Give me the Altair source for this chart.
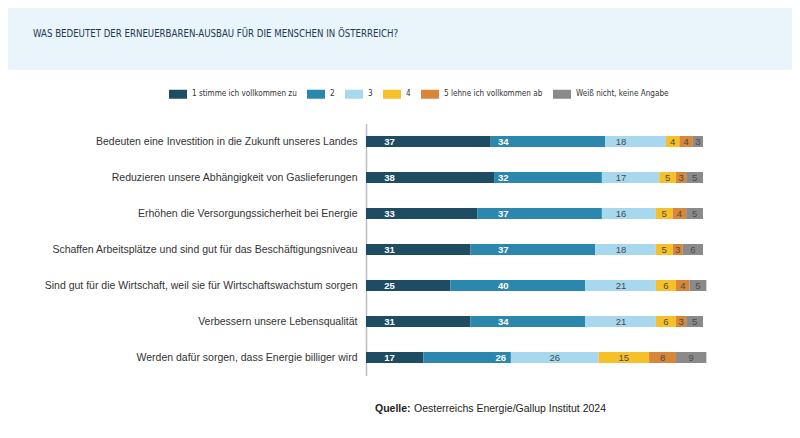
import altair as alt
import pandas as pd

title_text = "WAS BEDEUTET DER ERNEUERBAREN-AUSBAU FÜR DIE MENSCHEN IN ÖSTERREICH?"
source_bold = "Quelle:"
source_rest = "Oesterreichs Energie/Gallup Institut 2024"

statements = [
    "Bedeuten eine Investition in die Zukunft unseres Landes",
    "Reduzieren unsere Abhängigkeit von Gaslieferungen",
    "Erhöhen die Versorgungssicherheit bei Energie",
    "Schaffen Arbeitsplätze und sind gut für das Beschäftigungsniveau",
    "Sind gut für die Wirtschaft, weil sie für Wirtschaftswachstum sorgen",
    "Verbessern unsere Lebensqualität",
    "Werden dafür sorgen, dass Energie billiger wird",
]
categories = [
    "1 stimme ich vollkommen zu",
    "2",
    "3",
    "4",
    "5 lehne ich vollkommen ab",
    "Weiß nicht, keine Angabe",
]
colors = ["#1e4d63", "#2b87ad", "#a7d8ee", "#f6c128", "#d8873a", "#8a8a8a"]

v1 = [37, 38, 33, 31, 25, 31, 17]
v2 = [34, 32, 37, 37, 40, 34, 26]
v3 = [18, 17, 16, 18, 21, 21, 26]
v4 = [4, 5, 5, 5, 6, 6, 15]
v5 = [4, 3, 4, 3, 4, 3, 8]
v6 = [3, 5, 5, 6, 5, 5, 9]
series = [v1, v2, v3, v4, v5, v6]

rows = []
for i, s in enumerate(statements):
    start = 0.0
    for k, cat in enumerate(categories):
        val = series[k][i]
        end = start + val
        center = (start + end) / 2
        if k == 0:
            lx = start + 7
        elif k == 1:
            lx = min(40.7, end - 3)
        elif k == 2:
            lx = 75.7 if (start < 72 and end > 79) else center
        else:
            lx = center
        rows.append(dict(statement=s, cat=cat, k=k, val=val, start=start,
                         end=end, lx=lx, dark=k < 2))
        start = end
df = pd.DataFrame(rows)

SANS = "Liberation Sans, Arial, sans-serif"
NARROW = "Liberation Sans Narrow, Arial Narrow, DejaVu Sans Condensed, Liberation Sans, sans-serif"

PL, PT = 358, 115.5
W, H = 337, 252
TOTW, TOTH = 784, 422

yenc = alt.Y("statement:N", sort=statements, title=None,
             scale=alt.Scale(paddingInner=0, paddingOuter=0),
             axis=alt.Axis(labelFont=SANS, labelFontSize=10.5, labelColor="#333333",
                           labelPadding=9, ticks=False, domainColor="#bdbdbd",
                           domainWidth=1.5, labelLimit=400))

band = alt.Chart(pd.DataFrame({"a": [0]})).mark_rect(color="#e9f4fb").encode(
    x=alt.value(-PL), x2=alt.value(TOTW - PL), y=alt.value(-PT), y2=alt.value(62 - PT))

title = alt.Chart(pd.DataFrame({"t": [title_text]})).mark_text(
    align="left", baseline="middle", font=NARROW, fontSize=9.6, color="#243a52").encode(
    text="t:N", x=alt.value(25 - PL), y=alt.value(26 - PT))

src1 = alt.Chart(pd.DataFrame({"t": [source_bold]})).mark_text(
    align="left", baseline="middle", font=SANS, fontSize=10.5, fontWeight="bold",
    color="#222222").encode(text="t:N", x=alt.value(367 - PL), y=alt.value(401 - PT))
src2 = alt.Chart(pd.DataFrame({"t": [source_rest]})).mark_text(
    align="left", baseline="middle", font=SANS, fontSize=10.5, color="#222222").encode(
    text="t:N", x=alt.value(406 - PL), y=alt.value(401 - PT))

bars = alt.Chart(df).mark_bar(size=11).encode(
    x=alt.X("start:Q", scale=alt.Scale(domain=[0, 100], nice=False, zero=True),
            axis=None, title=None),
    x2="end:Q",
    y=yenc,
    color=alt.Color("cat:N", scale=alt.Scale(domain=categories, range=colors),
                    legend=alt.Legend(
                        title=None, orient="none", direction="horizontal",
                        legendX=161 - PL, legendY=77 - PT,
                        symbolType="M-1,-0.5H1V0.5H-1Z", symbolSize=324,
                        symbolStrokeWidth=0, symbolOpacity=1,
                        labelFont=NARROW, labelFontSize=8.1, labelColor="#333333",
                        labelOffset=5, columnPadding=10, labelLimit=300)),
    order=alt.Order("k:Q"),
)

labels_dark = alt.Chart(df[df["dark"]]).mark_text(
    align="center", baseline="middle", font=SANS, fontSize=9.5, fontWeight="bold",
    color="white").encode(
    x=alt.X("lx:Q"), y=alt.Y("statement:N", sort=statements), text="val:Q")
labels_light = alt.Chart(df[~df["dark"]]).mark_text(
    align="center", baseline="middle", font=SANS, fontSize=9.5,
    color="#4a4a4a").encode(
    x=alt.X("lx:Q"), y=alt.Y("statement:N", sort=statements), text="val:Q")

chart = alt.layer(band, title, src1, src2, bars, labels_dark, labels_light).properties(
    width=W, height=H,
    autosize=alt.AutoSizeParams(type="none"),
    padding={"left": PL, "top": PT, "right": TOTW - PL - W, "bottom": TOTH - PT - H},
    background="white",
).configure_view(stroke=None, strokeWidth=0)

chart.save("out.html", embed_options={"renderer": "svg", "actions": False})
